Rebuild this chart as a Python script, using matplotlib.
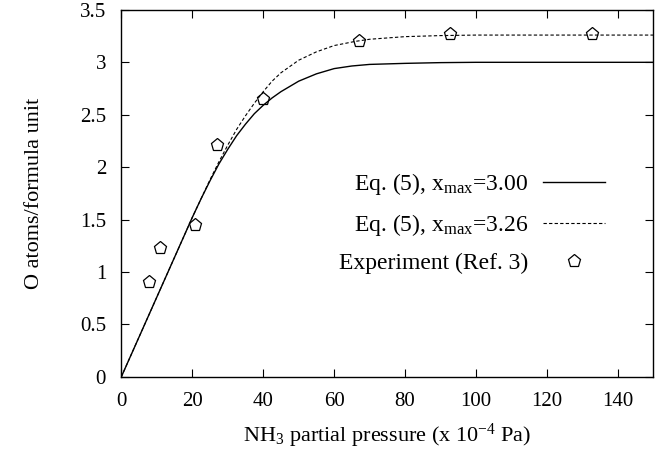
import matplotlib
matplotlib.use("Agg")
import matplotlib.pyplot as plt

plt.rcParams['font.family'] = ['Liberation Serif', 'DejaVu Serif']
plt.rcParams['mathtext.fontset'] = 'custom'
plt.rcParams['mathtext.rm'] = 'Liberation Serif'
plt.rcParams['mathtext.it'] = 'Liberation Serif:italic'

# Eq. (5), x_max = 3.00
p_solid = [0, 5, 10, 15, 20, 22.5, 25, 27.5, 30, 32.5, 35, 37.5, 40, 42.5, 45, 50, 55,
           60, 65, 70, 80, 90, 100, 150]
x_solid = [0, 0.38, 0.76, 1.14, 1.52, 1.70, 1.87, 2.03, 2.17, 2.30, 2.41, 2.51, 2.59,
           2.66, 2.72, 2.82, 2.89, 2.94, 2.965, 2.98, 2.99, 2.997, 3.0, 3.0]

# Eq. (5), x_max = 3.26
p_dash = [0, 5, 10, 15, 20, 22.5, 25, 27.5, 30, 32.5, 35, 37.5, 40, 42.5, 45, 50, 55,
          60, 66, 70, 80, 90, 100, 150]
x_dash = [0, 0.38, 0.76, 1.14, 1.52, 1.70, 1.88, 2.05, 2.21, 2.36, 2.49, 2.61, 2.72,
          2.82, 2.90, 3.02, 3.10, 3.16, 3.20, 3.22, 3.245, 3.255, 3.26, 3.26]

# Experiment (Ref. 3)
p_exp = [7.9, 10.9, 20.8, 26.9, 39.9, 66.9, 92.7, 132.8]
x_exp = [0.90, 1.23, 1.45, 2.21, 2.65, 3.20, 3.27, 3.27]

fig = plt.figure(figsize=(6.71, 4.55), dpi=100)
ax = fig.add_axes([0.1809, 0.1721, 0.7927, 0.8061])

ax.plot(p_solid, x_solid, 'k-', lw=1.0, label=r'Eq. (5), x$_{\rm max}$=3.00')
ax.plot(p_dash, x_dash, 'k', ls=(0, (3, 2)), lw=0.8, label=r'Eq. (5), x$_{\rm max}$=3.26')
ax.plot(p_exp, x_exp, 'kp', mfc='none', ms=9.5, mew=0.9, label='Experiment (Ref. 3)')

ax.set_xlim(0, 150)
ax.set_ylim(0, 3.5)
ax.set_xticks(range(0, 141, 20))
ax.set_yticks([0, 0.5, 1, 1.5, 2, 2.5, 3, 3.5])
ax.set_yticklabels(['0', '0.5', '1', '1.5', '2', '2.5', '3', '3.5'])
ax.tick_params(direction='in', top=True, right=True, length=6, width=0.8,
               labelsize=15)
ax.tick_params(axis='x', pad=11)
ax.tick_params(axis='y', pad=11)
for s in ax.spines.values():
    s.set_linewidth(1.0)

ax.set_xlabel(r'NH$_3$ partial pressure (x 10$^{-4}$ Pa)', fontsize=16, labelpad=8)
ax.set_ylabel('O atoms/formula unit', fontsize=16, labelpad=26)

ax.legend(loc='upper right', bbox_to_anchor=(0.909, 0.56), frameon=False,
          markerfirst=False, fontsize=17, handlelength=2.6, handletextpad=0.65,
          labelspacing=0.62, borderaxespad=0, borderpad=0)

fig.savefig('out.png', dpi=100)
